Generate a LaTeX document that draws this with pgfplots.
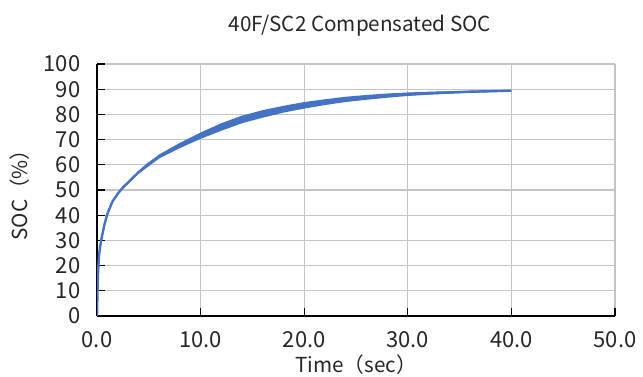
\documentclass[border=0pt]{standalone}
\usepackage{fontspec}
\setmainfont{Noto Sans CJK JP}
\usepackage{pgfplots}
\pgfplotsset{compat=1.18}
\definecolor{ser}{HTML}{4472C4}
\definecolor{grd}{HTML}{C4C4C4}
\begin{document}
\begin{tikzpicture}
\useasboundingbox (0,0) rectangle (482.25pt,282.75pt);
\begin{axis}[
  at={(72.75pt,45.75pt)}, anchor=south west,
  scale only axis, width=388.5pt, height=189pt,
  xmin=0, xmax=50, ymin=0, ymax=100,
  xtick={0,10,...,50}, ytick={0,10,...,100},
  xticklabel={\pgfmathprintnumber[fixed,fixed zerofill,precision=1]{\tick}},
  /pgf/number format/assume math mode=true,
  axis x line*=bottom, axis y line*=left,
  axis line style={black, line width=0.8pt},
  tick align=inside, major tick length=6pt,
  tick style={black, line width=0.8pt},
  grid=major, major grid style={grd, line width=0.8pt},
  ticklabel style={font=\fontsize{16.5}{18}\selectfont, text=black!85},
  yticklabel style={xshift=-9pt},
  xticklabel style={yshift=-8pt},
  xlabel={Time（sec）}, ylabel={SOC（\%）},
  label style={font=\fontsize{15.5}{17}\selectfont, text=black!85},
  xlabel style={yshift=1.5pt},
  ylabel style={yshift=4pt},
  title={40F/SC2 Compensated SOC},
  title style={font=\fontsize{15.5}{17}\selectfont, text=black!85, yshift=11pt, xshift=3pt},
]
% noise band
\addplot[draw=none, fill=ser] coordinates {
(2,48.6) (4,57.6) (6,64.1) (8,68.7) (10,72.8) (12,76.5) (14,79.5) (16,81.7) (18,83.4) (20,84.9) (22,86.0) (24,87.0) (26,87.7) (28,88.3) (30,88.7) (32,89.0) (34,89.2) (36,89.4) (38,89.6) (40,89.7)
(40,89.1) (38,88.8) (36,88.6) (34,88.2) (32,87.8) (30,87.3) (28,86.6) (26,85.8) (24,84.9) (22,83.7) (20,82.3) (18,80.7) (16,78.7) (14,76.5) (12,73.5) (10,70.3) (8,66.6) (6,62.5) (4,56.4) (2,48.4)
} --cycle;
\addplot[ser, line width=1.8pt, line join=round] coordinates {
(0,0) (0.03,6) (0.06,11) (0.1,17) (0.15,21) (0.2,24) (0.3,27.5) (0.45,31) (0.7,36) (1.0,40.5) (1.5,45.5) (2.0,48.5) (2.5,51) (3.0,53) (4.0,57) (5.0,60.5) (6.0,63.3) (7.0,65.6) (8.0,67.6) (9.0,69.6) (10.0,71.5) (11.0,73.3) (12.0,75) (13.0,76.6) (14.0,78) (15.0,79.2) (16.0,80.2) (17.0,81.2) (18.0,82.1) (19.0,82.9) (20.0,83.6) (22.0,84.9) (24.0,86) (26.0,86.8) (28.0,87.5) (30.0,88.0) (32.0,88.4) (34.0,88.7) (36.0,89.0) (38.0,89.2) (40.0,89.4)
};
\end{axis}
\end{tikzpicture}
\end{document}
